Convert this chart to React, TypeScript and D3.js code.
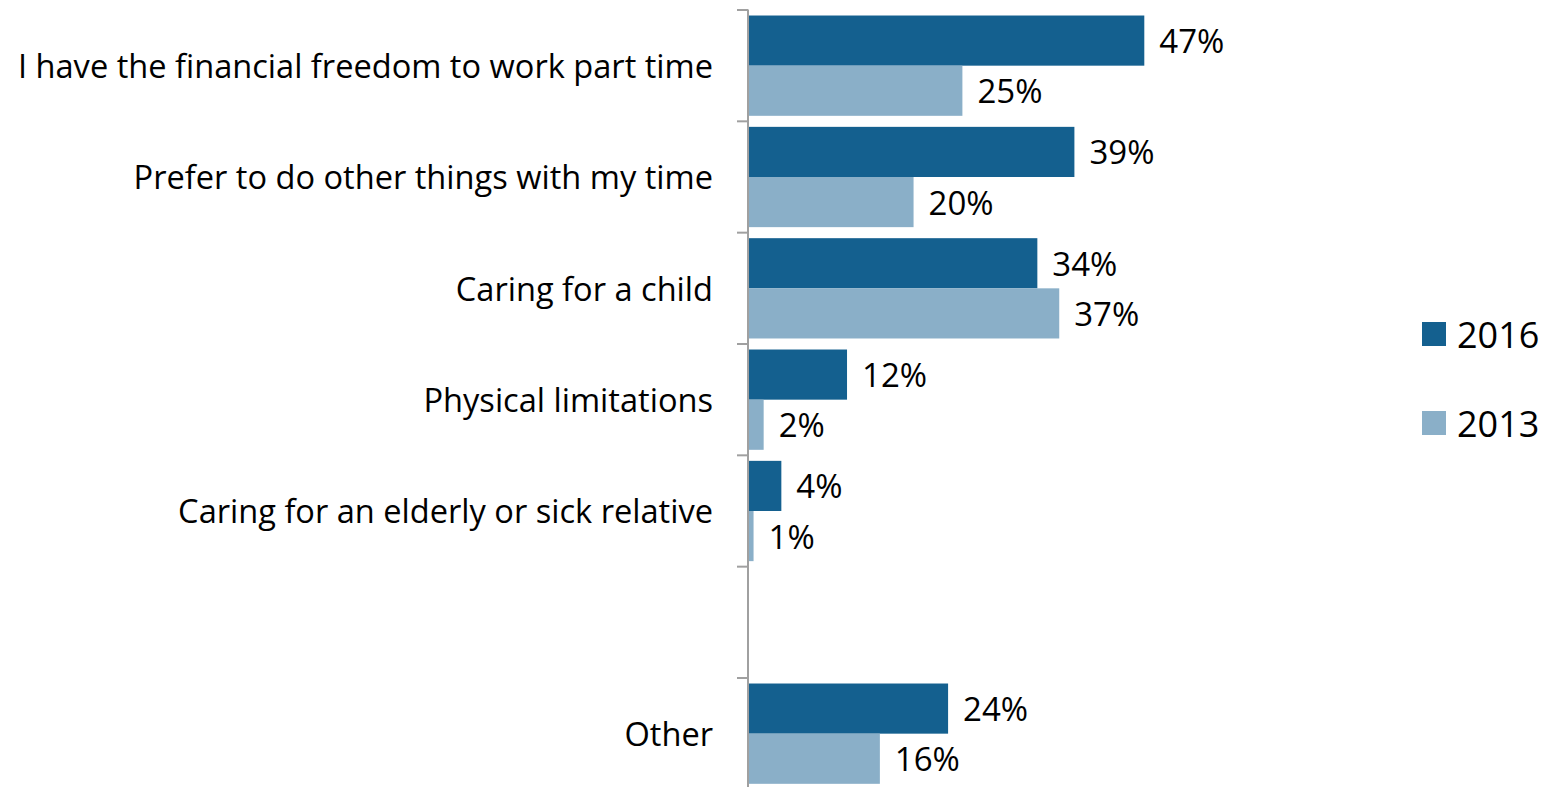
import React from "react";
import * as d3 from "d3";

const categories = [
  "I have the financial freedom to work part time",
  "Prefer to do other things with my time",
  "Caring for a child",
  "Physical limitations",
  "Caring for an elderly or sick relative",
  "",
  "Other",
];
const series = ["2016", "2013"];
const values2016: (number | null)[] = [47, 38.7, 34.3, 11.7, 3.9, null, 23.7];
const values2013: (number | null)[] = [25.4, 19.6, 36.9, 1.8, 0.6, null, 15.6];
const colors = ["#14608F", "#8AAFC8"];

const W = 1555;
const H = 787;
const FONT = "'Open Sans', Lato, sans-serif";

export default function App() {
  const x0 = 748.5;
  const x = d3.scaleLinear().domain([0, 47]).range([x0, 1144.3]);
  const y = d3
    .scaleBand<number>()
    .domain(d3.range(categories.length))
    .range([10, 678 + 111.33])
    .paddingInner(0)
    .paddingOuter(0);
  const slot = y.bandwidth();
  const inner = d3
    .scaleBand<number>()
    .domain([0, 1])
    .range([0, slot])
    .paddingOuter(0.11)
    .paddingInner(0);
  const data = [values2016, values2013];
  const ticks = d3.range(categories.length + 1).map((i) => 10 + i * slot);

  return (
    <svg
      width={W}
      height={H}
      style={{ position: "absolute", left: 0, top: 0, background: "#fff" }}
      fontFamily={FONT}
    >
      {data.map((vals, s) =>
        vals.map((v, i) =>
          v == null ? null : (
            <g key={`${s}-${i}`}>
              <rect
                x={x(0)}
                y={(y(i) as number) + (inner(s) as number)}
                width={x(v) - x(0)}
                height={inner.bandwidth()}
                fill={colors[s]}
              />
              <text
                x={x(v) + 15}
                y={(y(i) as number) + (inner(s) as number) + inner.bandwidth() / 2}
                dominantBaseline="central"
                fontSize={33}
                fill="#000"
              >
                {`${Math.round(v)}%`}
              </text>
            </g>
          )
        )
      )}
      <line x1={x0 - 0.5} x2={x0 - 0.5} y1={10} y2={H} stroke="#A0A0A0" strokeWidth={2} />
      {ticks.map((t, i) => (
        <line key={i} x1={737} x2={x0} y1={t} y2={t} stroke="#A0A0A0" strokeWidth={2} />
      ))}
      {categories.map((c, i) => (
        <text
          key={i}
          x={713}
          y={(y(i) as number) + slot / 2}
          textAnchor="end"
          dominantBaseline="central"
          fontSize={32.6}
          fill="#000"
        >
          {c}
        </text>
      ))}
      {series.map((s, i) => (
        <g key={s} transform={`translate(1422,${322 + i * 89})`}>
          <rect width={24} height={24} fill={colors[i]} />
          <text x={35} y={12} dominantBaseline="central" fontSize={36} fill="#000">
            {s}
          </text>
        </g>
      ))}
    </svg>
  );
}
